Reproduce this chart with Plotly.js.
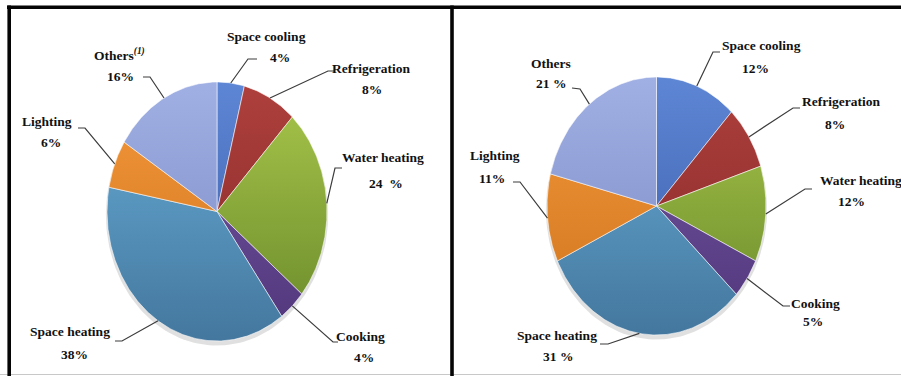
<!DOCTYPE html>
<html>
<head>
<meta charset="utf-8">
<script src="https://cdn.plot.ly/plotly-3.0.1.min.js"></script>
<style>
  html, body { margin: 0; padding: 0; background: #ffffff; }
  #chart { width: 901px; height: 376px; }
</style>
</head>
<body>
<div id="chart"></div>
<script>
// Residential energy consumption by end use (%), two panels
const categories = ['Space cooling', 'Refrigeration', 'Water heating', 'Cooking', 'Space heating', 'Lighting', 'Others'];
const leftValues  = [4, 8, 24, 4, 38, 6, 16];
const rightValues = [12, 8, 12, 5, 31, 11, 21];
// spacing printed between number and "%" in each label
const leftPctSep  = ['', '', '  ', '', '', '', ''];
const rightPctSep = ['', '', '', '', ' ', '', ' '];
const leftOthersNote = '(1)';

// [light, dark] shade for each category
const sliceColors = [
  ['#5d86d4', '#3a5ca8'],
  ['#ae403c', '#84282a'],
  ['#a9c74b', '#68882a'],
  ['#7559a2', '#52367c'],
  ['#68aed8', '#44779e'],
  ['#f5983c', '#cf741d'],
  ['#a0b0e4', '#7a8ac4']
];

const W = 901, H = 376, SPLIT = 452;

// label placement (pixels): name centre, value centre, elbow and end of the leader line
const leftLabels = [
  { name: [266, 36],  val: [280, 57],  elbow: [248, 59],  end: [257, 59] },
  { name: [371, 68],  val: [372, 89],  elbow: [328, 71],  end: [334, 71] },
  { name: [383, 157], val: [386, 183], elbow: [335, 168], end: [342, 168] },
  { name: [360, 336], val: [364, 357], elbow: [333, 342], end: [338, 342] },
  { name: [70, 331],  val: [74, 354],  elbow: [122, 341], end: [115, 341] },
  { name: [47, 121],  val: [51, 142],  elbow: [85, 128],  end: [78, 128] },
  { name: [119, 54],  val: [120, 76],  elbow: [150, 77],  end: [143, 77] }
];
const rightLabels = [
  { name: [761, 45],  val: [755, 68],  elbow: [713, 52],  end: [720, 52] },
  { name: [841, 101], val: [835, 124], elbow: [793, 108], end: [800, 108] },
  { name: [861, 180], val: [851, 201], elbow: [805, 189], end: [812, 189] },
  { name: [815, 303], val: [813, 321], elbow: [783, 306], end: [790, 306] },
  { name: [557, 335], val: [558, 356], elbow: [608, 344], end: [600, 344] },
  { name: [495, 155], val: [492, 178], elbow: [520, 182], end: [513, 182] },
  { name: [551, 63],  val: [551, 83],  elbow: [580, 89],  end: [572, 88] }
];

const panels = [
  { cx: 217,   cy: 211.5, rx: 110,   ry: 129.5, d0: 0,     d1: SPLIT, values: leftValues,  sep: leftPctSep,  labels: leftLabels,  note: leftOthersNote, xa: 'x',  ya: 'y'  },
  { cx: 656.5, cy: 206,   rx: 109.5, ry: 129,   d0: SPLIT, d1: W,     values: rightValues, sep: rightPctSep, labels: rightLabels, note: '',             xa: 'x2', ya: 'y2' }
];

const traces = [];
const annotations = [];
const layout = {
  width: W, height: H,
  margin: { l: 0, r: 0, t: 0, b: 0 },
  paper_bgcolor: '#ffffff',
  plot_bgcolor: 'rgba(0,0,0,0)',
  showlegend: false,
  hovermode: false,
  annotations: annotations,
  shapes: []
};

const labelFont = { family: 'Liberation Serif', size: 13.5, color: '#111111', weight: 'bold' };

panels.forEach((p, pi) => {
  const toX = px => (px - p.cx) / p.rx;
  const toY = py => (p.cy - py) / p.ry;
  const axSuffix = pi === 0 ? '' : '2';
  layout['xaxis' + axSuffix] = {
    domain: [p.d0 / W, p.d1 / W], range: [toX(p.d0), toX(p.d1)],
    visible: false, fixedrange: true, anchor: 'y' + axSuffix
  };
  layout['yaxis' + axSuffix] = {
    domain: [0, 1], range: [toY(H), toY(0)],
    visible: false, fixedrange: true, anchor: 'x' + axSuffix
  };

  const total = p.values.reduce((a, b) => a + b, 0);

  // soft shadow under the pie
  const sx = [], sy = [];
  for (let i = 0; i <= 180; i++) {
    const t = i / 180 * 2 * Math.PI;
    sx.push(Math.sin(t) * 1.01);
    sy.push(Math.cos(t) * 1.01 - 0.025);
  }
  traces.push({
    type: 'scatter', mode: 'lines', x: sx, y: sy, xaxis: p.xa, yaxis: p.ya,
    fill: 'toself', fillcolor: 'rgba(0,0,0,0.12)', line: { width: 0, color: 'rgba(0,0,0,0)' },
    hoverinfo: 'skip'
  });

  let cum = 0;
  p.values.forEach((v, k) => {
    const a0 = cum / total * 2 * Math.PI;
    cum += v;
    const a1 = cum / total * 2 * Math.PI;
    const xs = [0], ys = [0];
    const n = Math.max(4, Math.ceil((a1 - a0) / 0.01));
    for (let i = 0; i <= n; i++) {
      const t = a0 + (a1 - a0) * i / n;
      xs.push(Math.sin(t));
      ys.push(Math.cos(t));
    }
    xs.push(0); ys.push(0);
    traces.push({
      type: 'scatter', mode: 'lines', x: xs, y: ys, xaxis: p.xa, yaxis: p.ya,
      name: categories[k],
      fill: 'toself',
      fillcolor: sliceColors[k][0],
      fillgradient: {
        type: 'vertical', start: -1, stop: 1,
        colorscale: [[0, sliceColors[k][1]], [1, sliceColors[k][0]]]
      },
      line: { color: 'rgba(255,255,255,0.55)', width: 1 },
      hoverinfo: 'skip'
    });

    // leader line from the middle of the slice's rim
    const am = (a0 + a1) / 2;
    const L = p.labels[k];
    traces.push({
      type: 'scatter', mode: 'lines', xaxis: p.xa, yaxis: p.ya,
      x: [Math.sin(am), toX(L.elbow[0]), toX(L.end[0])],
      y: [Math.cos(am), toY(L.elbow[1]), toY(L.end[1])],
      line: { color: '#3c3c3c', width: 1.2 },
      hoverinfo: 'skip'
    });

    let nameText = categories[k];
    if (k === categories.length - 1 && p.note) {
      nameText += '<sup><i>' + p.note + '</i></sup>';
    }
    annotations.push({
      xref: p.xa, yref: p.ya, x: toX(L.name[0]), y: toY(L.name[1]),
      text: nameText, showarrow: false,
      xanchor: 'center', yanchor: 'middle', font: labelFont
    });
    annotations.push({
      xref: p.xa, yref: p.ya, x: toX(L.val[0]), y: toY(L.val[1]),
      text: v + p.sep[k] + '%', showarrow: false,
      xanchor: 'center', yanchor: 'middle', font: labelFont
    });
  });
});

// panel frame
const px = v => v / W, py = v => 1 - v / H;
layout.shapes.push(
  { type: 'line', xref: 'paper', yref: 'paper', x0: px(0), x1: px(W), y0: py(374.5), y1: py(374.5), line: { color: '#c8c8c8', width: 1 } },
  { type: 'line', xref: 'paper', yref: 'paper', x0: px(7), x1: px(W), y0: py(7.3), y1: py(7.3), line: { color: '#050505', width: 3.6 } },
  { type: 'line', xref: 'paper', yref: 'paper', x0: px(9.2), x1: px(9.2), y0: py(5.5), y1: py(H), line: { color: '#050505', width: 3.6 } },
  { type: 'line', xref: 'paper', yref: 'paper', x0: px(452), x1: px(452), y0: py(5.5), y1: py(H), line: { color: '#050505', width: 3.6 } }
);

Plotly.newPlot('chart', traces, layout, { staticPlot: true, displayModeBar: false });
</script>
</body>
</html>
